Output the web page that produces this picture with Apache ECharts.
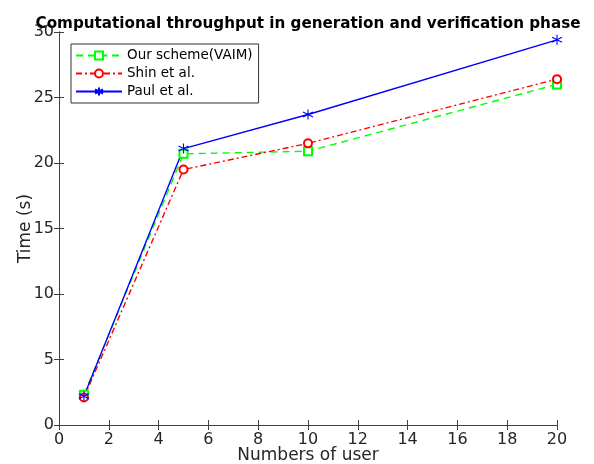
<!DOCTYPE html>
<html>
<head>
<meta charset="utf-8">
<script src="https://cdn.jsdelivr.net/npm/echarts@6/dist/echarts.min.js"></script>
<style>
  html, body { margin: 0; padding: 0; background: #fff; }
  #main { width: 594px; height: 464px; }
</style>
</head>
<body>
<div id="main"></div>
<script>
// number of users on the x axis
const users = [1, 5, 10, 20];
// time (s) per scheme
const vaim = [2.3, 20.7, 20.9, 26.0];
const shin = [2.1, 19.5, 21.5, 26.4];
const paul = [2.2, 21.1, 23.7, 29.4];
const names = ['Our scheme(VAIM)', 'Shin et al.', 'Paul et al.'];

const axisColor = '#404040';
const labelColor = '#262626';
const font = 'DejaVu Sans';
const star = 'path://M0,-5L0,5M-4.33,-2.5L4.33,2.5M-4.33,2.5L4.33,-2.5';

function pairs(ys){
    return users.map((u, i) => [u, ys[i]]);
}

function mkSeries(name, ys, color, symbol, size, dash){
    return {
        name: name,
        type: 'line',
        data: pairs(ys),
        symbol: symbol,
        symbolSize: size,
        showSymbol: true,
        animation: false,
        lineStyle: {color: color, width: 1.4, type: dash},
        itemStyle: {color: color, borderColor: color, borderWidth: 1.1}
    };
}

function boxAxis(pos, isX){
    return {
        type: 'value', position: pos,
        min: 0, max: isX ? 20 : 30, interval: isX ? 2 : 5,
        axisLine: {show: true, lineStyle: {color: axisColor, width: 1}},
        axisTick: {show: true, inside: true, length: 5, lineStyle: {color: axisColor}},
        axisLabel: {show: false},
        splitLine: {show: false}
    };
}

let chart = echarts.init(document.getElementById('main'), null, {renderer: 'canvas'});
chart.setOption({
    backgroundColor: '#fff',
    animation: false,
    title: {
        text: 'Computational throughput in generation and verification phase',
        left: 303, top: 12, textAlign: 'center',
        textStyle: {fontFamily: font, fontSize: 15.2, fontWeight: 'bold', color: '#000'}
    },
    grid: {left: 59, right: 37, top: 32, bottom: 39, containLabel: false, outerBoundsMode: 'none'},
    legend: {
        orient: 'vertical',
        left: 71, top: 44,
        padding: [4, 6, 4, 4],
        itemWidth: 46, itemHeight: 10, itemGap: 3,
        borderColor: '#333', borderWidth: 1,
        backgroundColor: '#fff',
        data: names,
        textStyle: {fontFamily: font, fontSize: 13.5, lineHeight: 15, color: '#000'}
    },
    xAxis: [{
        type: 'value', position: 'bottom',
        min: 0, max: 20, interval: 2,
        name: 'Numbers of user', nameLocation: 'middle', nameGap: 22,
        nameMoveOverlap: false,
        nameTextStyle: {fontFamily: font, fontSize: 17, color: labelColor},
        axisLine: {show: true, lineStyle: {color: axisColor, width: 1}},
        axisTick: {show: true, inside: true, length: 5, lineStyle: {color: axisColor}},
        axisLabel: {fontFamily: font, fontSize: 16, color: labelColor, margin: 7},
        splitLine: {show: false}
    }, boxAxis('top', true)],
    yAxis: [{
        type: 'value', position: 'left',
        min: 0, max: 30, interval: 5,
        name: 'Time (s)', nameLocation: 'middle', nameGap: 25,
        nameMoveOverlap: false,
        nameTextStyle: {fontFamily: font, fontSize: 17, color: labelColor},
        axisLine: {show: true, lineStyle: {color: axisColor, width: 1}},
        axisTick: {show: true, inside: true, length: 5, lineStyle: {color: axisColor}},
        axisLabel: {fontFamily: font, fontSize: 16, color: labelColor, margin: 5},
        splitLine: {show: false}
    }, boxAxis('right', false)],
    series: [
        mkSeries(names[0], vaim, '#00ff00', 'emptyRect', 8, [7, 5]),
        mkSeries(names[1], shin, '#ff0000', 'emptyCircle', 8, [6, 3, 2, 3]),
        mkSeries(names[2], paul, '#0000ff', star, 10, 'solid')
    ]
});
</script>
</body>
</html>
